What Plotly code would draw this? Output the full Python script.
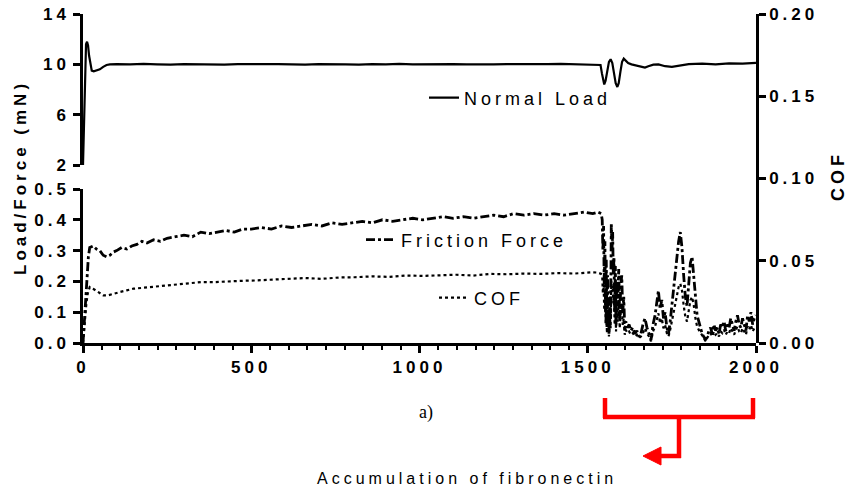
import plotly.graph_objects as go

# ---------------- data ----------------
time_load = [0, 3, 6, 9, 12, 15, 18, 22, 26, 32,
             40, 50, 60, 70, 80, 100,
             140, 180, 220, 260, 300, 340, 380, 420, 460, 500,
             540, 580, 620, 660, 700, 740, 780, 820, 860, 900,
             940, 980, 1020, 1060, 1100, 1140, 1180, 1220, 1260, 1300,
             1340, 1380, 1420, 1460, 1500,
             1530,
             1538, 1542, 1546, 1549, 1553, 1558, 1563, 1568, 1573, 1578,
             1583, 1588, 1592, 1597, 1602, 1607, 1612, 1620, 1630, 1645,
             1660, 1670, 1680, 1695, 1710, 1730, 1750, 1770, 1800, 1840,
             1880, 1920, 1960, 2000]
normal_load = [2.0, 6.0, 10.5, 11.6, 11.8, 11.5, 10.7, 9.9, 9.5, 9.45,
               9.5, 9.6, 9.8, 9.95, 10.0, 10.02,
               9.99, 10.03, 10.0, 9.97, 10.02, 10.0, 10.04, 9.98, 10.01, 10.03,
               9.99, 10.02, 10.0, 9.97, 10.01, 10.03, 10.0, 9.98, 10.02, 10.0,
               10.03, 9.99, 10.01, 9.98, 10.02, 10.0, 9.97, 9.99, 10.02, 10.0,
               9.97, 10.01, 10.03, 10.0, 10.02,
               10.0,
               9.95, 9.3, 8.6, 8.4, 8.7, 9.6, 10.2, 10.4, 10.1, 9.3,
               8.5, 8.2, 8.5, 9.4, 10.2, 10.45, 10.3, 10.1, 10.0, 9.9,
               9.8, 9.75, 9.85, 9.98, 10.0, 9.85, 9.8, 9.9, 10.02, 10.05,
               10.0, 10.08, 10.05, 10.12]

time_friction = [0, 4, 8, 12, 16, 20, 30, 40, 50, 60, 70, 80, 90, 100,
                 115, 130, 145, 160, 175, 190, 210, 230, 250, 275, 300,
                 325, 350, 375, 400, 425, 450, 475, 500, 530, 560, 590,
                 620, 650, 680, 710, 740, 770, 800, 830, 860, 890, 920,
                 950, 980, 1010, 1040, 1070, 1100, 1130, 1160, 1190, 1220,
                 1250, 1280, 1310, 1340, 1370, 1400, 1430, 1460, 1490, 1515,
                 1530, 1540, 1543, 1545, 1547, 1549, 1551, 1553, 1555, 1557,
                 1559, 1561, 1563, 1566, 1568, 1570, 1572, 1574, 1576, 1578,
                 1580, 1582, 1584, 1586, 1589, 1592, 1595, 1598, 1601, 1604,
                 1607, 1610, 1613, 1618, 1623, 1628, 1634, 1640, 1646, 1652,
                 1658, 1664, 1670, 1676, 1682, 1688, 1694, 1700, 1705, 1710,
                 1715, 1720, 1725, 1730, 1735, 1740, 1745, 1750, 1755, 1760,
                 1765, 1770, 1775, 1780, 1785, 1790, 1795, 1800, 1805, 1810,
                 1815, 1820, 1825, 1830, 1835, 1840, 1845, 1850, 1855, 1860,
                 1865, 1870, 1875, 1880, 1885, 1890, 1895, 1900, 1905, 1910,
                 1915, 1920, 1925, 1930, 1935, 1940, 1945, 1950, 1955, 1960,
                 1965, 1970, 1975, 1980, 1985, 1990, 1995, 2000]
friction_force = [0.00, 0.08, 0.16, 0.22, 0.28, 0.31, 0.315, 0.305, 0.30, 0.285, 0.28, 0.285, 0.295, 0.30,
                  0.31, 0.305, 0.315, 0.32, 0.33, 0.325, 0.335, 0.33, 0.34, 0.345, 0.35,
                  0.345, 0.36, 0.355, 0.36, 0.365, 0.36, 0.37, 0.37, 0.375, 0.37, 0.38,
                  0.375, 0.38, 0.385, 0.38, 0.39, 0.385, 0.39, 0.395, 0.39, 0.40, 0.395,
                  0.40, 0.405, 0.40, 0.405, 0.41, 0.405, 0.41, 0.405, 0.41, 0.415,
                  0.41, 0.42, 0.415, 0.42, 0.415, 0.42, 0.415, 0.42, 0.425, 0.42,
                  0.425, 0.42, 0.40, 0.30, 0.38, 0.18, 0.33, 0.10, 0.27, 0.05,
                  0.22, 0.12, 0.03, 0.15, 0.08, 0.39, 0.30, 0.36, 0.22, 0.28,
                  0.10, 0.25, 0.06, 0.20, 0.12, 0.24, 0.08, 0.18, 0.22, 0.10,
                  0.15, 0.04, 0.07, 0.05, 0.06, 0.04, 0.05, 0.03, 0.04, 0.02,
                  0.03, 0.06, 0.08, 0.05, 0.03, 0.01, 0.06, 0.09, 0.13, 0.17,
                  0.11, 0.14, 0.08, 0.10, 0.05, 0.03, 0.07, 0.12, 0.17, 0.24,
                  0.29, 0.33, 0.36, 0.31, 0.22, 0.15, 0.12, 0.19, 0.26, 0.28,
                  0.22, 0.14, 0.09, 0.07, 0.05, 0.03, 0.02, 0.01, 0.02, 0.04,
                  0.05, 0.03, 0.06, 0.04, 0.05, 0.03, 0.06, 0.05, 0.07, 0.04,
                  0.06, 0.05, 0.08, 0.06, 0.04, 0.07, 0.09, 0.06, 0.05, 0.08,
                  0.06, 0.04, 0.09, 0.07, 0.10, 0.06, 0.08, 0.09]

time_cof = [0, 3, 6, 10, 14, 20, 30, 45, 60, 75, 90, 110, 130, 150, 175,
            200, 230, 260, 290, 320, 350, 390, 430, 470, 510, 560, 610,
            660, 710, 760, 810, 860, 910, 960, 1010, 1060, 1110, 1160,
            1210, 1260, 1310, 1360, 1410, 1460, 1510, 1530,
            1540, 1543, 1545, 1547, 1549, 1551, 1553, 1555, 1557,
            1559, 1561, 1563, 1566, 1568, 1570, 1572, 1574, 1576, 1578,
            1580, 1582, 1584, 1586, 1589, 1592, 1595, 1598, 1601, 1604,
            1607, 1610, 1613, 1618, 1623, 1628, 1634, 1640, 1646, 1652,
            1658, 1664, 1670, 1676, 1682, 1688, 1694, 1700, 1705, 1710,
            1715, 1720, 1725, 1730, 1735, 1740, 1745, 1750, 1755, 1760,
            1765, 1770, 1775, 1780, 1785, 1790, 1795, 1800, 1805, 1810,
            1815, 1820, 1825, 1830, 1835, 1840, 1845, 1850, 1855, 1860,
            1865, 1870, 1875, 1880, 1885, 1890, 1895, 1900, 1905, 1910,
            1915, 1920, 1925, 1930, 1935, 1940, 1945, 1950, 1955, 1960,
            1965, 1970, 1975, 1980, 1985, 1990, 1995, 2000]
cof = [0.0, 0.008, 0.016, 0.024, 0.030, 0.034, 0.033, 0.031, 0.029, 0.029, 0.030, 0.031, 0.032, 0.033, 0.0335,
       0.034, 0.035, 0.0355, 0.036, 0.0365, 0.037, 0.037, 0.0375, 0.0378, 0.038, 0.0385, 0.039,
       0.0395, 0.039, 0.0398, 0.040, 0.0405, 0.0402, 0.041, 0.0408, 0.0412, 0.0415, 0.041,
       0.042, 0.0418, 0.0422, 0.042, 0.0425, 0.0422, 0.043, 0.0428,
       0.042, 0.041, 0.030, 0.036, 0.020, 0.032, 0.012, 0.026, 0.006,
       0.024, 0.013, 0.004, 0.016, 0.009, 0.038, 0.031, 0.035, 0.024, 0.029,
       0.011, 0.026, 0.007, 0.021, 0.013, 0.025, 0.009, 0.019, 0.022, 0.011,
       0.015, 0.005, 0.008, 0.006, 0.007, 0.005, 0.006, 0.004, 0.005, 0.003,
       0.004, 0.006, 0.009, 0.006, 0.004, 0.001, 0.007, 0.010, 0.014, 0.018,
       0.012, 0.015, 0.009, 0.011, 0.006, 0.004, 0.008, 0.013, 0.018, 0.025,
       0.030, 0.034, 0.036, 0.032, 0.023, 0.016, 0.013, 0.020, 0.026, 0.028,
       0.023, 0.015, 0.010, 0.008, 0.006, 0.004, 0.003, 0.001, 0.003, 0.005,
       0.006, 0.004, 0.007, 0.005, 0.006, 0.004, 0.007, 0.006, 0.008, 0.005,
       0.007, 0.006, 0.009, 0.007, 0.005, 0.008, 0.010, 0.007, 0.006, 0.009,
       0.007, 0.005, 0.010, 0.008, 0.011, 0.007, 0.009, 0.010]

x_ticks = [0, 500, 1000, 1500, 2000]
load_ticks = [2, 6, 10, 14]
force_ticks = [0.0, 0.1, 0.2, 0.3, 0.4, 0.5]
cof_ticks = [0.00, 0.05, 0.10, 0.15, 0.20]

assert len(time_load) == len(normal_load)
assert len(time_friction) == len(friction_force)
assert len(time_cof) == len(cof)

# ---------------- geometry ----------------
W, H = 850, 492
ML, MR, MT, MB = 83, 94, 14, 149
PW, PH = W - ML - MR, H - MT - MB


def px(x):
    return (x - ML) / PW


def py(y):
    return (H - MB - y) / PH


SANS = "Liberation Sans, Arial, Helvetica, sans-serif"
BLACK = "#000000"
RED = "#ff0000"
tickfont = dict(family=SANS, size=17, color=BLACK, weight="bold")

fig = go.Figure()
fig.add_trace(go.Scatter(x=time_load, y=normal_load, name="Normal Load", mode="lines",
                         line=dict(color=BLACK, width=2.2), xaxis="x", yaxis="y2",
                         legend="legend"))
fig.add_trace(go.Scatter(x=time_friction, y=friction_force, name="Friction Force", mode="lines",
                         line=dict(color=BLACK, width=2.8, dash="dashdot"), xaxis="x", yaxis="y",
                         legend="legend2"))
fig.add_trace(go.Scatter(x=time_cof, y=cof, name="COF", mode="lines",
                         line=dict(color=BLACK, width=2.2, dash="dot"), xaxis="x", yaxis="y3",
                         legend="legend3"))

axis_common = dict(showline=True, linecolor=BLACK, linewidth=2.5, ticks="outside",
                   ticklen=7, tickwidth=2.5, tickcolor=BLACK, showgrid=False,
                   zeroline=False, tickfont=tickfont, automargin=False)

legend_common = dict(xanchor="left", yanchor="middle", bgcolor="rgba(0,0,0,0)",
                     borderwidth=0, itemwidth=30, orientation="h",
                     entrywidth=230, entrywidthmode="pixels",
                     font=dict(family=SANS, size=18, color=BLACK))

fig.update_layout(
    width=W, height=H,
    margin=dict(l=ML, r=MR, t=MT, b=MB, pad=0, autoexpand=False),
    paper_bgcolor="white", plot_bgcolor="rgba(0,0,0,0)",
    xaxis=dict(range=[0, 2000], tickvals=x_ticks, anchor="y", domain=[0, 1],
               minor=dict(dtick=500 / 9, tick0=0, ticks="outside", ticklen=4,
                          tickwidth=2, tickcolor=BLACK),
               **axis_common),
    yaxis=dict(range=[0, 0.5], tickvals=force_ticks, tickformat=".1f",
               domain=[0, py(189)], anchor="x", **axis_common),
    yaxis2=dict(range=[2, 14], tickvals=load_ticks, domain=[py(165), 1],
                anchor="x", **axis_common),
    yaxis3=dict(range=[0, 0.2], tickvals=cof_ticks, tickformat=".2f",
                domain=[0, 1], anchor="x", side="right", **axis_common),
    legend=dict(x=px(424), y=py(98), **legend_common),
    legend2=dict(x=px(361), y=py(240), **legend_common),
    legend3=dict(x=px(434), y=py(298), **legend_common),
    showlegend=True,
)

ann_common = dict(xref="paper", yref="paper", showarrow=False,
                  xanchor="center", yanchor="middle")
fig.add_annotation(text="Load/Force (mN)", x=px(20), y=py(178), textangle=-90,
                   font=dict(family=SANS, size=17, color=BLACK, weight="bold"), **ann_common)
fig.add_annotation(text="COF", x=px(838), y=py(176), textangle=-90,
                   font=dict(family=SANS, size=18, color=BLACK, weight="bold"), **ann_common)
fig.add_annotation(text="a)", x=px(426), y=py(412),
                   font=dict(family="Liberation Serif, Times New Roman, serif", size=18, color=BLACK),
                   **ann_common)
fig.add_annotation(text="Accumulation of fibronectin", x=px(467), y=py(478),
                   font=dict(family=SANS, size=16, color=BLACK), **ann_common)

# red bracket + arrow
red_line = dict(color=RED, width=4.5)
segments = [
    ((605, 398), (605, 418)),
    ((603, 417), (755, 417)),
    ((753, 398), (753, 418)),
    ((679, 417), (679, 458)),
    ((681, 456), (656, 456)),
]
for (x0, y0), (x1, y1) in segments:
    fig.add_shape(type="line", xref="paper", yref="paper",
                  x0=px(x0), y0=py(y0), x1=px(x1), y1=py(y1), line=red_line)
tri = "M {} {} L {} {} L {} {} Z".format(px(643), py(456), px(661), py(447), px(661), py(465))
fig.add_shape(type="path", xref="paper", yref="paper", path=tri,
              fillcolor=RED, line=dict(color=RED, width=1))

post = """
document.body.style.margin = '0';
document.body.style.padding = '0';
var gd = document.getElementById('{plot_id}');
gd.querySelectorAll('text').forEach(function(t){
  if (t.textContent !== 'a)') { t.style.letterSpacing = '4px'; }
});
"""
fig.write_html("out.html", post_script=post, config={"displayModeBar": False})
